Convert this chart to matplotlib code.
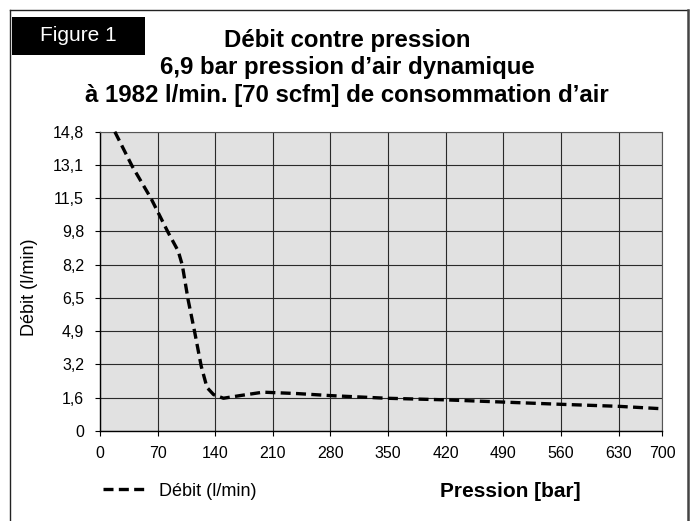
import numpy as np
import matplotlib
matplotlib.use('Agg')
import matplotlib.pyplot as plt
from matplotlib.lines import Line2D
import matplotlib.patches as mpatches

plt.rcParams['font.family'] = ['Liberation Sans', 'DejaVu Sans']

#%% data
pression = [18, 39, 62, 83, 95, 100, 107, 115, 123, 130, 138, 150, 170, 198,
            240, 280, 348, 420, 490, 560, 630, 700]
debit = [14.8, 13.1, 11.5, 9.8, 8.9, 8.2, 6.5, 4.9, 3.2, 2.15, 1.8, 1.62,
         1.75, 1.92, 1.85, 1.75, 1.62, 1.54, 1.43, 1.32, 1.22, 1.1]
xticks = [0, 70, 140, 210, 280, 350, 420, 490, 560, 630, 700]
yticks = np.linspace(0, 14.8, 10)
ylabels = ['0', '1,6', '3,2', '4,9', '6,5', '8,2', '9,8', '11,5', '13,1', '14,8']
titleLines = ['Débit contre pression',
              '6,9 bar pression d\u2019air dynamique',
              'à 1982 l/min. [70 scfm] de consommation d\u2019air']

# the last interval (630-700) is drawn shorter in the reference
lastFrac = 0.754
def fwd(x):
    x = np.asarray(x, float)
    return np.where(x <= 630, x/70., 9 + (x-630)/70.*lastFrac)
def inv(p):
    p = np.asarray(p, float)
    return np.where(p <= 9, p*70., 630 + (p-9)*70./lastFrac)

W, H = 693, 521
fig = plt.figure(figsize=(W/100, H/100), dpi=100)
def fx(px): return px/W
def fy(py): return 1 - py/H

# outer frame (open at the bottom)
fig.add_artist(Line2D([fx(9.5), fx(9.5)], [0, fy(9.5)], color='#222222', lw=1.0))
fig.add_artist(Line2D([fx(9.5), fx(688)], [fy(9.5), fy(9.5)], color='#222222', lw=1.0))
fig.add_artist(Line2D([fx(688), fx(688)], [0, fy(9.5)], color='#444444', lw=1.8))

# black 'Figure 1' box
fig.add_artist(mpatches.Rectangle((fx(11.7), fy(55)), fx(145)-fx(11.7), fy(16.7)-fy(55),
                                  transform=fig.transFigure, fc='black', ec='none'))
fig.text(fx(78.3), fy(40.7), 'Figure 1', color='white', fontsize=15,
         ha='center', va='baseline')

for txt, base in zip(titleLines, [46.7, 74.2, 101.7]):
    fig.text(fx(347), fy(base), txt, fontsize=17.3, fontweight='bold',
             ha='center', va='baseline')

#%% plot
ax = fig.add_axes([fx(100), fy(431), fx(662)-fx(100), fy(131.7)-fy(431)])
ax.set_facecolor('#e1e1e1')
ax.set_xscale('function', functions=(fwd, inv))
ax.set_xlim(0, 700)
ax.set_ylim(0, 14.8)

ax.plot(pression, debit, color='black', lw=2.4, ls=(0, (3.0, 1.6)),
        dash_capstyle='butt', dash_joinstyle='round', clip_on=False,
        label='Débit (l/min)', zorder=3)

ax.set_xticks(xticks)
ax.set_xticklabels([str(v) for v in xticks])
ax.set_yticks(yticks)
ax.set_yticklabels(ylabels)
ax.minorticks_off()
ax.grid(True, color='#2a2a2a', lw=0.8)
ax.set_axisbelow(True)
ax.tick_params(direction='out', length=3.5, width=0.8, labelsize=11.5, color='black')
ax.tick_params(axis='y', pad=8)
ax.tick_params(axis='x', pad=7)
for s in ['top', 'right']:
    ax.spines[s].set_color('#555555')
    ax.spines[s].set_linewidth(0.8)
for s in ['left', 'bottom']:
    ax.spines[s].set_color('black')
    ax.spines[s].set_linewidth(1.0)

fig.text(fx(29.5), fy(287), 'Débit (l/min)', rotation=90, fontsize=13,
         ha='center', va='center')
fig.text(fx(510), fy(497), 'Pression [bar]', fontsize=15, fontweight='bold',
         ha='center', va='baseline')

fig.legend(loc='center left', bbox_to_anchor=(fx(103), fy(491)), frameon=False,
           fontsize=13, handlelength=2.3, handletextpad=0.8, borderpad=0,
           borderaxespad=0)

plt.savefig('out.png', dpi=100)
